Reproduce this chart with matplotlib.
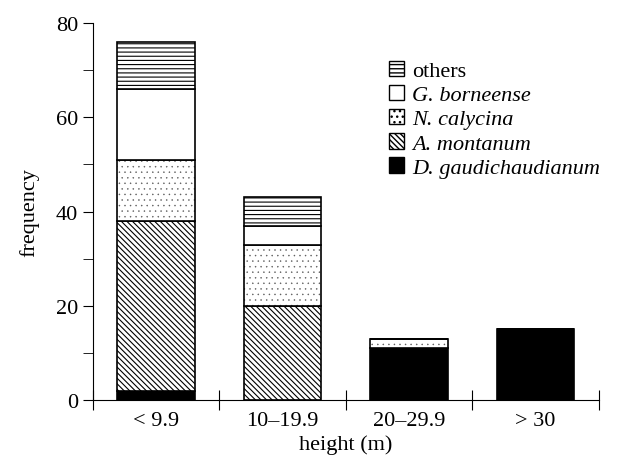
import matplotlib
matplotlib.use("Agg")
import matplotlib.pyplot as plt
from matplotlib.patches import Patch
import numpy as np

plt.rcParams['font.family'] = ['Liberation Serif', 'DejaVu Serif']

categories = ["< 9.9", "10\u201319.9", "20\u201329.9", "> 30"]
species = ["D. gaudichaudianum", "A. montanum", "N. calycina", "G. borneense", "others"]
counts = {
    "D. gaudichaudianum": [2, 0, 11, 15],
    "A. montanum": [36, 20, 0, 0],
    "N. calycina": [13, 13, 2, 0],
    "G. borneense": [15, 4, 0, 0],
    "others": [10, 6, 0, 0],
}
# face colour, hatch, hatch colour, hatch line width
fills = {
    "D. gaudichaudianum": ("black", None, "black", 0.8),
    "A. montanum": ("white", "\\" * 6, "black", 0.8),
    "N. calycina": ("white", "...", "0.35", 0.3),
    "G. borneense": ("white", None, "black", 0.8),
    "others": ("white", "-" * 4, "black", 0.8),
}

fig = plt.figure(figsize=(6.23, 4.6), dpi=100)
ax = fig.add_axes([0.149, 0.128, 0.812, 0.82])

x = np.arange(len(categories))
bottom = np.zeros(len(categories))
legend_handles = []
for sp in species:
    vals = np.array(counts[sp], dtype=float)
    fc, hatch, hc, hlw = fills[sp]
    with plt.rc_context({'hatch.linewidth': hlw}):
        # hatch drawn in its own colour, outline drawn on top in black
        ax.bar(x, vals, width=0.61, bottom=bottom, color=fc, edgecolor=hc,
               hatch=hatch, linewidth=0)
        ax.bar(x, vals, width=0.61, bottom=bottom, fill=False,
               edgecolor="black", linewidth=1.2)
        legend_handles.append(Patch(facecolor=fc, edgecolor="black",
                                    hatch=hatch, linewidth=1.0))
    bottom += vals

ax.set_xlim(-0.5, 3.5)
ax.set_ylim(0, 80)
ax.spines['top'].set_visible(False)
ax.spines['right'].set_visible(False)

ax.set_yticks([0, 20, 40, 60, 80])
ax.set_yticks(np.arange(10, 80, 20), minor=True)
ax.tick_params(axis='y', which='major', direction='out', length=7, labelsize=16)
ax.tick_params(axis='y', which='minor', direction='out', length=7)

ax.set_xticks(np.arange(-0.5, 4, 1))
ax.set_xticklabels([])
ax.tick_params(axis='x', which='major', direction='inout', length=14)
ax.set_xticks(x, minor=True)
ax.set_xticklabels(categories, minor=True, fontsize=16)
ax.tick_params(axis='x', which='minor', length=0, pad=8)

ax.set_xlabel("height (m)", fontsize=16, labelpad=3)
ax.set_ylabel("frequency", fontsize=16, labelpad=12)

leg = ax.legend(legend_handles[::-1], species[::-1], loc='upper left',
                bbox_to_anchor=(0.585, 0.90), frameon=False, fontsize=16,
                handlelength=0.7, handleheight=0.7, handletextpad=0.35,
                labelspacing=0.16, borderpad=0, borderaxespad=0)
for t in leg.get_texts()[1:]:
    t.set_fontstyle('italic')

fig.savefig("out.png", dpi=100)
